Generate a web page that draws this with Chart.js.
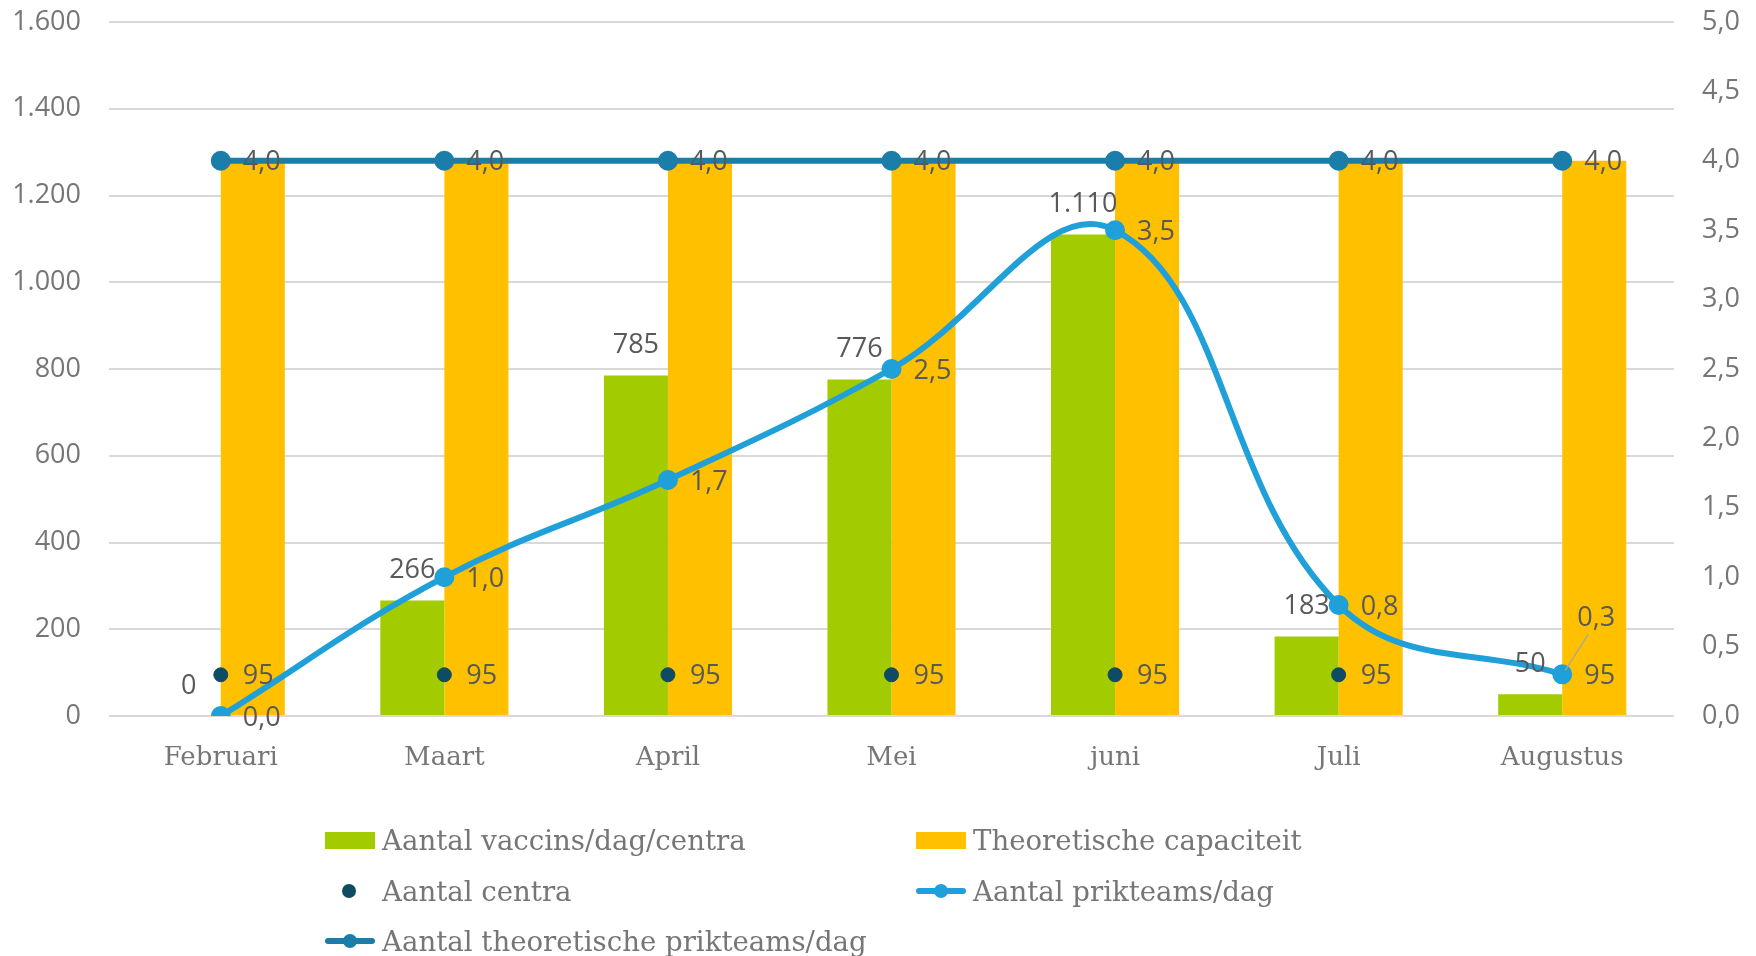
<!DOCTYPE html>
<html><head><meta charset="utf-8">
<script src="https://cdn.jsdelivr.net/npm/chart.js@4.4.1/dist/chart.umd.min.js"></script>
<style>
html,body{margin:0;padding:0;background:#fff;}
#wrap{position:relative;width:1756px;height:956px;}
#legend{position:absolute;left:0;top:0;width:1756px;height:956px;pointer-events:none;font-family:'DejaVu Serif',serif;font-size:27.6px;color:#767676;}
.item{position:absolute;display:flex;align-items:center;height:40px;white-space:nowrap;}
.sym{position:relative;width:50px;height:40px;margin-right:7px;flex:none;}
</style></head>
<body>
<div id="wrap"><canvas id="c" width="1756" height="956"></canvas><div id="legend"></div></div>
<script>
// ---- data ----
const categories = ['Februari','Maart','April','Mei','juni','Juli','Augustus'];
const vaccinsPerDagPerCentrum = [0, 266, 785, 776, 1110, 183, 50];
const theoretischeCapaciteit = [1280, 1280, 1280, 1280, 1280, 1280, 1280];
const aantalCentra = [95, 95, 95, 95, 95, 95, 95];
const prikteamsPerDag = [0.0, 1.0, 1.7, 2.5, 3.5, 0.8, 0.3];
const theoretischePrikteamsPerDag = [4.0, 4.0, 4.0, 4.0, 4.0, 4.0, 4.0];
const leftAxisMax = 1600, leftAxisStep = 200;
const rightAxisMax = 5, rightAxisStep = 0.5;

const SANS = "'Liberation Sans Narrow', 'Open Sans', sans-serif";
const SERIF = "'DejaVu Serif', serif";
const fmtThousands = v => String(Math.round(v)).replace(/\B(?=(\d{3})+(?!\d))/g, '.');
const fmtDec = v => v.toFixed(1).replace('.', ',');

const GREEN = '#A3CC00', ORANGE = '#FFC000', NAVY = '#0F4C64', LIGHTBLUE = '#1FA0D8', STEEL = '#1B7DAA';

const labelPlugin = {
  id: 'dataLabels',
  afterDatasetsDraw(chart) {
    const ctx = chart.ctx;
    chart.data.datasets.forEach((ds, i) => {
      const meta = chart.getDatasetMeta(i);
      if (!ds.dl || meta.hidden) return;
      meta.data.forEach((el, j) => {
        const txt = ds.dl.fmt(ds.data[j]);
        const place = (ds.dl.place && ds.dl.place[j]) || ds.dl.pos;
        const x = el.x, y = el.y;
        ctx.save();
        ctx.font = '27px ' + SANS;
        ctx.fillStyle = '#595959';
        ctx.textBaseline = 'middle';
        if (place === 'top') {
          ctx.textAlign = 'center';
          ctx.fillText(txt, x, y - 30);
        } else if (place === 'right') {
          ctx.textAlign = 'left';
          ctx.fillText(txt, x + 22, y + 2);
        } else if (place === 'callout') {
          ctx.strokeStyle = '#A6A6A6';
          ctx.lineWidth = 1.2;
          ctx.beginPath();
          ctx.moveTo(x + 3, y - 4);
          ctx.lineTo(x + 26, y - 40);
          ctx.stroke();
          ctx.textAlign = 'center';
          ctx.fillText(txt, x + 34, y - 56);
        }
        ctx.restore();
      });
    });
  }
};

const datasets = [
  { type: 'bar', label: 'Aantal vaccins/dag/centra', data: vaccinsPerDagPerCentrum, backgroundColor: GREEN,
    yAxisID: 'y', order: 3, categoryPercentage: 0.573, barPercentage: 1.0, dl: { pos: 'top', fmt: fmtThousands }, sym: 'box' },
  { type: 'bar', label: 'Theoretische capaciteit', data: theoretischeCapaciteit, backgroundColor: ORANGE,
    yAxisID: 'y', order: 3, categoryPercentage: 0.573, barPercentage: 1.0, sym: 'box' },
  { type: 'line', label: 'Aantal centra', data: aantalCentra, showLine: false, pointRadius: 7, pointHoverRadius: 7,
    pointBackgroundColor: NAVY, pointBorderColor: NAVY, borderColor: NAVY, backgroundColor: NAVY,
    yAxisID: 'y', order: 1, dl: { pos: 'right', fmt: v => String(v) }, sym: 'dot' },
  { type: 'line', label: 'Aantal prikteams/dag', data: prikteamsPerDag, borderColor: LIGHTBLUE, backgroundColor: LIGHTBLUE,
    borderWidth: 6, pointRadius: 7, pointBackgroundColor: LIGHTBLUE, pointBorderColor: LIGHTBLUE, tension: 0.4,
    yAxisID: 'y1', order: 0, dl: { pos: 'right', place: [null, null, null, null, null, null, 'callout'], fmt: fmtDec }, sym: 'line' },
  { type: 'line', label: 'Aantal theoretische prikteams/dag', data: theoretischePrikteamsPerDag, borderColor: STEEL, backgroundColor: STEEL,
    borderWidth: 6, pointRadius: 7, pointBackgroundColor: STEEL, pointBorderColor: STEEL, tension: 0,
    yAxisID: 'y1', order: 0, dl: { pos: 'right', fmt: fmtDec }, sym: 'line' }
];

const chart = new Chart(document.getElementById('c'), {
  data: { labels: categories, datasets },
  options: {
    responsive: false,
    animation: false,
    layout: { padding: { top: 0, bottom: 170, left: 0, right: 0 } },
    plugins: { legend: { display: false }, tooltip: { enabled: false } },
    scales: {
      x: {
        grid: { display: false }, border: { display: false },
        ticks: { font: { family: SERIF, size: 26 }, color: '#767676', padding: 19, maxRotation: 0 },
        afterFit: s => { s.height = 70; }
      },
      y: {
        position: 'left', min: 0, max: leftAxisMax,
        grid: { color: '#D9D9D9', lineWidth: 2, drawTicks: false }, border: { display: false },
        ticks: { stepSize: leftAxisStep, padding: 28, color: '#767676', font: { family: SANS, size: 27 }, callback: v => fmtThousands(v) },
        afterFit: s => { s.width = 109; s.paddingTop = 22; s.paddingBottom = 16; }
      },
      y1: {
        position: 'right', min: 0, max: rightAxisMax,
        grid: { drawOnChartArea: false, drawTicks: false }, border: { display: false },
        ticks: { stepSize: rightAxisStep, padding: 28, color: '#767676', font: { family: SANS, size: 27 }, callback: v => fmtDec(v) },
        afterFit: s => { s.width = 82; s.paddingTop = 22; s.paddingBottom = 16; }
      }
    }
  },
  plugins: [labelPlugin]
});

// ---- HTML legend built from the chart datasets ----
const legendEl = document.getElementById('legend');
const colX = [325, 916], rowY = [840, 891, 941];
chart.data.datasets.forEach((ds, i) => {
  const item = document.createElement('div');
  item.className = 'item';
  item.style.left = colX[i % 2] + 'px';
  item.style.top = (rowY[Math.floor(i / 2)] - 20) + 'px';
  const sym = document.createElement('div');
  sym.className = 'sym';
  const c = ds.borderColor || ds.backgroundColor;
  if (ds.sym === 'box') {
    sym.innerHTML = `<div style="position:absolute;left:0;top:12px;width:50px;height:17px;background:${ds.backgroundColor}"></div>`;
  } else if (ds.sym === 'dot') {
    sym.innerHTML = `<div style="position:absolute;left:17px;top:13px;width:14px;height:14px;border-radius:50%;background:${c}"></div>`;
  } else {
    sym.innerHTML = `<div style="position:absolute;left:0;top:17px;width:50px;height:6px;border-radius:3px;background:${c}"></div>` +
      `<div style="position:absolute;left:18px;top:13px;width:14px;height:14px;border-radius:50%;background:${c}"></div>`;
  }
  const txt = document.createElement('span');
  txt.textContent = ds.label;
  item.appendChild(sym);
  item.appendChild(txt);
  legendEl.appendChild(item);
});
</script>
</body></html>
